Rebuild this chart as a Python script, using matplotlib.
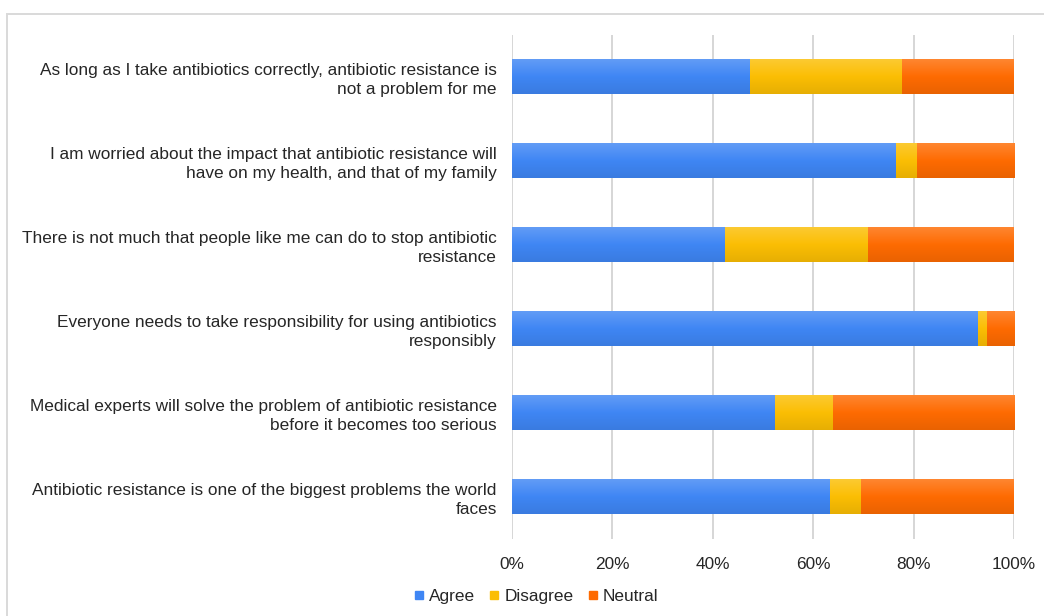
import numpy as np
import matplotlib
matplotlib.use("Agg")
import matplotlib.pyplot as plt
import matplotlib.ticker as mticker
from matplotlib.colors import to_rgb
from matplotlib.lines import Line2D
from matplotlib.patches import Rectangle

plt.rcParams['font.family'] = ['Liberation Sans', 'DejaVu Sans']

statements = [
    "As long as I take antibiotics correctly, antibiotic resistance is\nnot a problem for me",
    "I am worried about the impact that antibiotic resistance will\nhave on my health, and that of my family",
    "There is not much that people like me can do to stop antibiotic\nresistance",
    "Everyone needs to take responsibility for using antibiotics\nresponsibly",
    "Medical experts will solve the problem of antibiotic resistance\nbefore it becomes too serious",
    "Antibiotic resistance is one of the biggest problems the world\nfaces",
]
agree = [47.5, 76.5, 42.5, 92.9, 52.3, 63.4]
disagree = [30.2, 4.1, 28.5, 1.7, 11.6, 6.2]
neutral = [22.3, 19.4, 29.0, 5.4, 36.1, 30.4]

series = ["Agree", "Disagree", "Neutral"]
colors = ["#3f86f4", "#fbbe04", "#fe6b02"]
fs = 12.4


def shade(c, amt):
    # amt > 0 -> toward white, amt < 0 -> toward black
    c = np.array(to_rgb(c))
    if amt > 0:
        return c + (1 - c) * amt
    return c * (1 + amt)


def gradient_bars(ax, bars, color):
    # overlay a soft top-to-bottom shading on each bar
    n = 32
    t = np.linspace(0, 1, n)[:, None]
    top = shade(color, 0.18)
    mid = shade(color, 0.0)
    bot = shade(color, -0.08)
    img = np.where(t < 0.5,
                   top + (mid - top) * (t / 0.5),
                   mid + (bot - mid) * ((t - 0.5) / 0.5))
    img = img.reshape(n, 1, 3)
    for p in bars:
        x0, y0 = p.get_x(), p.get_y()
        w, h = p.get_width(), p.get_height()
        ax.imshow(img, extent=(x0, x0 + w, y0 + h, y0), origin='upper',
                  aspect='auto', interpolation='bilinear', zorder=3)


fig = plt.figure(figsize=(10.44, 6.16), dpi=100)
ax = fig.add_axes([512 / 1044, 1 - 539 / 616, 502 / 1044, 504 / 616])

y = np.arange(len(statements))
left = np.zeros(len(statements))
for vals, col in zip([agree, disagree, neutral], colors):
    bars = ax.barh(y, vals, left=left, height=0.405, color=col, zorder=2)
    gradient_bars(ax, bars, col)
    left = left + np.array(vals)

ax.set_xlim(0, 100)
ax.set_ylim(len(statements) - 0.5, -0.5)
ax.set_yticks(y)
ax.set_yticklabels(statements, fontsize=fs, color="#262626", linespacing=1.32)
ax.xaxis.set_major_locator(mticker.MultipleLocator(20))
ax.xaxis.set_major_formatter(mticker.FuncFormatter(lambda v, _: "{:d}%".format(int(v))))
ax.tick_params(axis='x', length=0, pad=13, labelsize=fs, labelcolor="#262626")
ax.tick_params(axis='y', length=0, pad=11)
for s in ax.spines.values():
    s.set_visible(False)
ax.grid(axis='x', color="#d6d6d6", linewidth=1.4, zorder=0)
ax.set_axisbelow(True)

# outer chart frame
fig.patches.append(Rectangle((7 / 1044, -0.05), 1.1, 1 - 14 / 616 + 0.05,
                             transform=fig.transFigure, fill=False,
                             edgecolor="#d9d9d9", linewidth=1.4))

handles = [Line2D([], [], marker='s', linestyle='none', markersize=5.5,
                  color=c) for c in colors]
fig.legend(handles, series, loc='center', bbox_to_anchor=(536 / 1044, 1 - 596 / 616),
           ncol=3, frameon=False, fontsize=fs, handlelength=0.6,
           handletextpad=0.3, columnspacing=0.8, labelcolor="#262626")

fig.savefig("out.png", dpi=100)
